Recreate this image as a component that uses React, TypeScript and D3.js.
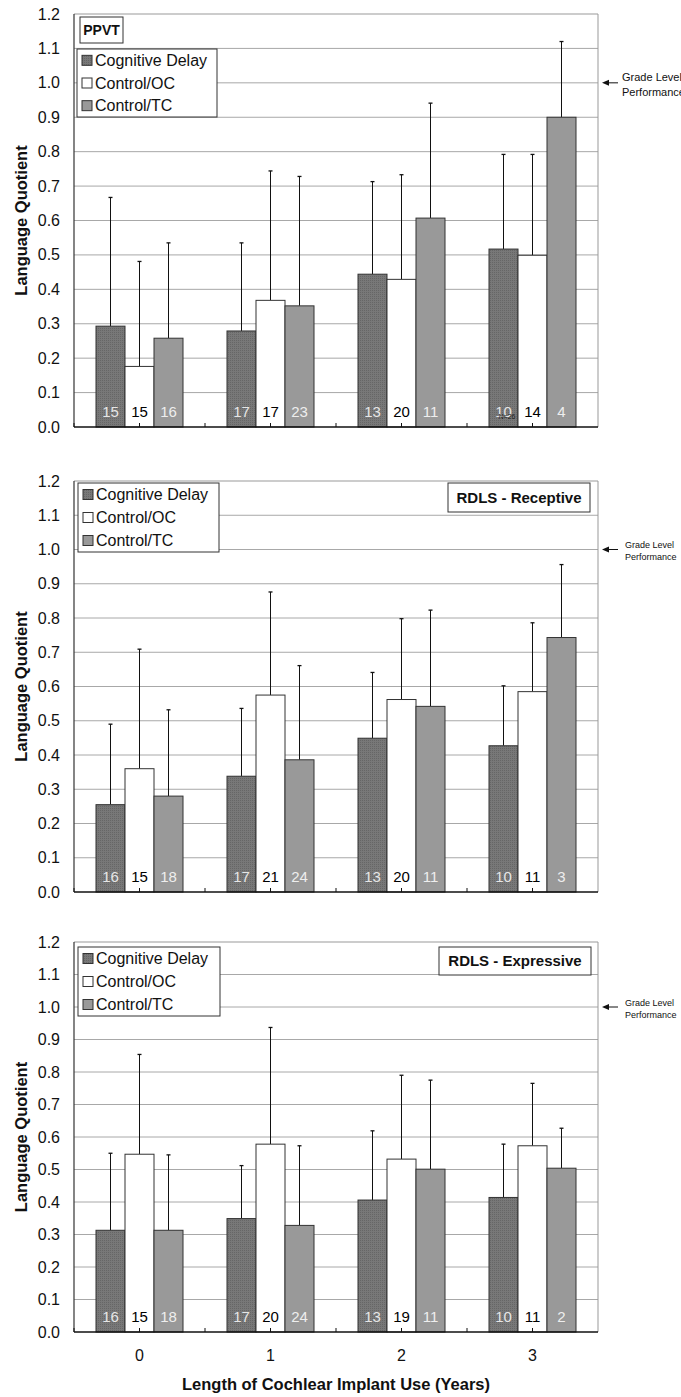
import React from 'react';
import * as d3 from 'd3';

// years of implant use on the x axis
const years = ['0', '1', '2', '3'];
const groups = ['Cognitive Delay', 'Control/OC', 'Control/TC'];
const yTicks = [0, 0.1, 0.2, 0.3, 0.4, 0.5, 0.6, 0.7, 0.8, 0.9, 1.0, 1.1, 1.2];

// rows = group, columns = year
const ppvtMean = [[0.293, 0.279, 0.444, 0.517], [0.176, 0.368, 0.429, 0.499], [0.258, 0.352, 0.607, 0.9]];
const ppvtUpper = [[0.667, 0.535, 0.713, 0.792], [0.481, 0.744, 0.733, 0.792], [0.535, 0.728, 0.941, 1.12]];
const ppvtN = [[15, 17, 13, 10], [15, 17, 20, 14], [16, 23, 11, 4]];

const recMean = [[0.255, 0.338, 0.449, 0.427], [0.36, 0.575, 0.562, 0.585], [0.28, 0.386, 0.542, 0.743]];
const recUpper = [[0.49, 0.536, 0.641, 0.602], [0.709, 0.876, 0.798, 0.786], [0.532, 0.661, 0.823, 0.956]];
const recN = [[16, 17, 13, 10], [15, 21, 20, 11], [18, 24, 11, 3]];

const expMean = [[0.313, 0.349, 0.406, 0.414], [0.547, 0.578, 0.532, 0.573], [0.313, 0.328, 0.501, 0.504]];
const expUpper = [[0.55, 0.512, 0.619, 0.578], [0.854, 0.937, 0.79, 0.765], [0.545, 0.573, 0.775, 0.627]];
const expN = [[16, 17, 13, 10], [15, 20, 19, 11], [18, 24, 11, 2]];

const fills = ['url(#dots)', '#ffffff', '#999999'];
const countColor = ['#e6e6e6', '#000000', '#eeeeee'];
const font = 'Arial, "Liberation Sans", sans-serif';

const left = 74;
const right = 598;

const x0 = d3.scaleBand().domain(years).range([left, right]);
const x1 = d3.scaleBand().domain(groups).range([22, 109]);

const Panel = ({ top, bottom, mean, upper, n, title, titleBox, titleSize, legendBox, gradeSize, note }) => {
  const y = d3.scaleLinear().domain([0, 1.2]).range([bottom, top]);
  const rowGap = (legendBox.y1 - legendBox.y0) / 3;
  const gx = gradeSize > 10 ? 622 : 625;
  return (
    <g>
      {/* grid */}
      {yTicks.slice(1, -1).map(t => (
        <line key={t} x1={left} x2={right} y1={y(t)} y2={y(t)} stroke="#a8a8a8" strokeWidth={1} />
      ))}
      <line x1={left} x2={right} y1={y(1.2)} y2={y(1.2)} stroke="#999" />
      <line x1={right} x2={right} y1={y(1.2)} y2={y(0)} stroke="#999" />

      {/* bars */}
      {groups.map((gname, gi) =>
        years.map((yr, yi) => {
          const bx = x0(yr) + x1(gname);
          const bw = x1.bandwidth();
          const cx = bx + bw / 2;
          return (
            <g key={gname + yr}>
              <line x1={cx} x2={cx} y1={y(mean[gi][yi])} y2={y(upper[gi][yi])} stroke="#111" />
              <line x1={cx - 2} x2={cx + 2} y1={y(upper[gi][yi])} y2={y(upper[gi][yi])} stroke="#111" strokeWidth={1.3} />
              <rect x={bx} y={y(mean[gi][yi])} width={bw} height={y(0) - y(mean[gi][yi])}
                fill={fills[gi]} stroke="#333" strokeWidth={1} />
              <text x={cx} y={y(0) - 10} textAnchor="middle" fontSize={15} fill={countColor[gi]}>
                {n[gi][yi]}
              </text>
            </g>
          );
        })
      )}
      {note && (
        <text x={x0('3') + x1(groups[0]) + 18} y={y(0) - 8} fontSize={7} fill="#222" textAnchor="middle">N=26</text>
      )}

      {/* axes */}
      <line x1={left} x2={left} y1={y(1.2)} y2={y(0)} stroke="#333" strokeWidth={1.2} />
      <line x1={left} x2={right} y1={y(0)} y2={y(0)} stroke="#111" strokeWidth={1.5} />
      {years.map(yr => (
        <g key={yr}>
          <line x1={x0(yr)} x2={x0(yr)} y1={y(0)} y2={y(0) - 4} stroke="#111" />
          <line x1={x0(yr) + x0.bandwidth() / 2} x2={x0(yr) + x0.bandwidth() / 2} y1={y(0)} y2={y(0) - 4} stroke="#111" />
        </g>
      ))}
      {yTicks.map(t => (
        <text key={t} x={60} y={y(t) + 5.5} textAnchor="end" fontSize={16} fill="#111">{t.toFixed(1)}</text>
      ))}
      <text transform={`translate(27,${(top + bottom) / 2}) rotate(-90)`} textAnchor="middle"
        fontSize={16.5} fontWeight="bold" fill="#111">Language Quotient</text>

      {/* legend */}
      <rect x={legendBox.x0} y={legendBox.y0} width={legendBox.x1 - legendBox.x0} height={legendBox.y1 - legendBox.y0}
        fill="#fff" stroke="#333" />
      {groups.map((gname, gi) => {
        const cy = legendBox.y0 + rowGap * (gi + 0.5);
        return (
          <g key={gname}>
            <rect x={legendBox.x0 + 5} y={cy - 5} width={10} height={10} fill={fills[gi]} stroke="#333" />
            <text x={legendBox.x0 + 18} y={cy + 5.5} fontSize={16} fill="#111">{gname}</text>
          </g>
        );
      })}

      {/* title box */}
      <rect x={titleBox.x0} y={titleBox.y0} width={titleBox.x1 - titleBox.x0} height={titleBox.y1 - titleBox.y0}
        fill="#fff" stroke="#333" />
      <text x={(titleBox.x0 + titleBox.x1) / 2} y={(titleBox.y0 + titleBox.y1) / 2 + titleSize * 0.36}
        textAnchor="middle" fontSize={titleSize} fontWeight="bold" fill="#111">{title}</text>

      {/* grade level marker */}
      <line x1={606} x2={618} y1={y(1)} y2={y(1)} stroke="#111" />
      <path d={`M602,${y(1)} L609,${y(1) - 3} L609,${y(1) + 3} Z`} fill="#111" />
      <text x={gx} y={y(1) - (gradeSize > 10 ? 2 : 1.5)} fontSize={gradeSize} fill="#111">Grade Level</text>
      <text x={gx} y={y(1) + gradeSize * 1.2} fontSize={gradeSize} fill="#111">Performance</text>
    </g>
  );
};

const App = () => {
  return (
    <svg width={681} height={1397} style={{ position: 'absolute', left: 0, top: 0, background: '#fff' }}
      fontFamily={font}>
      <defs>
        <pattern id="dots" width={2} height={2} patternUnits="userSpaceOnUse">
          <rect width={2} height={2} fill="#787878" />
          <rect width={1} height={1} fill="#666666" />
        </pattern>
      </defs>
      <rect width={681} height={1397} fill="#fff" />
      <Panel top={14} bottom={427} mean={ppvtMean} upper={ppvtUpper} n={ppvtN}
        title="PPVT" titleSize={14} titleBox={{ x0: 80, y0: 17, x1: 123, y1: 43 }}
        legendBox={{ x0: 77, y0: 49, x1: 217, y1: 117 }} gradeSize={11} note />
      <Panel top={481} bottom={892} mean={recMean} upper={recUpper} n={recN}
        title="RDLS - Receptive" titleSize={15} titleBox={{ x0: 448, y0: 483, x1: 590, y1: 512 }}
        legendBox={{ x0: 78, y0: 483, x1: 219, y1: 552 }} gradeSize={9} />
      <Panel top={942} bottom={1332} mean={expMean} upper={expUpper} n={expN}
        title="RDLS - Expressive" titleSize={15} titleBox={{ x0: 439, y0: 947, x1: 591, y1: 975 }}
        legendBox={{ x0: 78, y0: 947, x1: 220, y1: 1016 }} gradeSize={9} />
      {years.map(yr => (
        <text key={yr} x={x0(yr) + x0.bandwidth() / 2} y={1361} textAnchor="middle" fontSize={16} fill="#111">{yr}</text>
      ))}
      <text x={(left + right) / 2} y={1390} textAnchor="middle" fontSize={16.5} fontWeight="bold" fill="#111">
        Length of Cochlear Implant Use (Years)
      </text>
    </svg>
  );
};

export default App;
